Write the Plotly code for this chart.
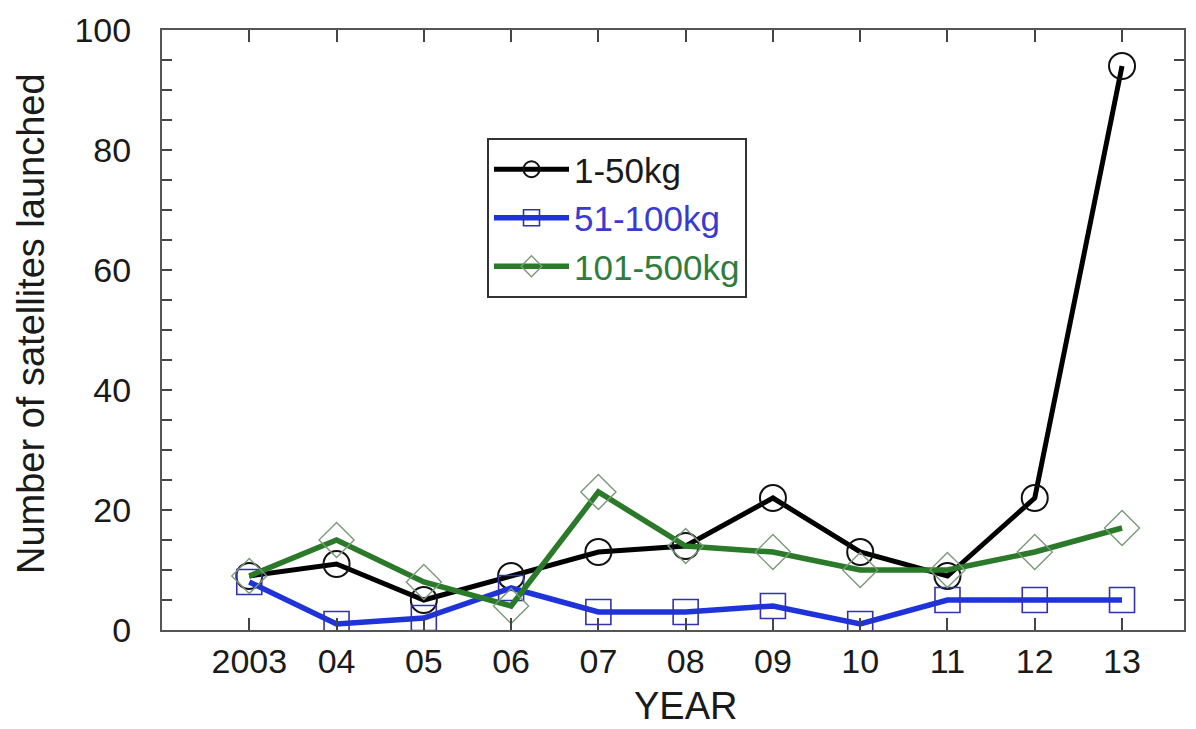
import plotly.graph_objects as go

years = ["2003", "04", "05", "06", "07", "08", "09", "10", "11", "12", "13"]
sat_1_50 = [9, 11, 5, 9, 13, 14, 22, 13, 9, 22, 94]
sat_51_100 = [8, 1, 2, 7, 3, 3, 4, 1, 5, 5, 5]
sat_101_500 = [9, 15, 8, 4, 23, 14, 13, 10, 10, 13, 17]

FONT = "Liberation Sans, Arial, Helvetica, sans-serif"

fig = go.Figure()
fig.add_trace(go.Scatter(
    x=years, y=sat_1_50, mode="lines+markers",
    name="<span style='color:#1a1a1a'>1-50kg</span>",
    line=dict(color="#000000", width=5),
    marker=dict(symbol="circle-open", size=26, color="#111111", line=dict(width=2)),
))
fig.add_trace(go.Scatter(
    x=years, y=sat_51_100, mode="lines+markers",
    name="<span style='color:#3a3ad0'>51-100kg</span>",
    line=dict(color="#1f33da", width=5.5),
    marker=dict(symbol="square-open", size=25, color="#3232b0", line=dict(width=1.6)),
))
fig.add_trace(go.Scatter(
    x=years, y=sat_101_500, mode="lines+markers",
    name="<span style='color:#2f7d3c'>101-500kg</span>",
    line=dict(color="#2a7a2a", width=5.5),
    marker=dict(symbol="diamond-open", size=27, color="#7a9a7a", line=dict(width=1.4)),
))

# the page body adds an 8px offset, so the figure is sized/margined to compensate
fig.update_layout(
    width=1188, height=721,
    margin=dict(l=154, r=12, t=22, b=99),
    paper_bgcolor="white", plot_bgcolor="white",
    font=dict(family=FONT, color="#1a1a1a"),
    showlegend=True,
    hovermode=False,
    legend=dict(
        x=0.318, y=0.82, xanchor="left", yanchor="top",
        bgcolor="white", bordercolor="#333333", borderwidth=2,
        font=dict(size=35, family=FONT),
        itemwidth=75,
        tracegroupgap=0,
    ),
    annotations=[
        dict(text="Number of satellites launched", xref="paper", yref="paper",
             x=0, y=0.5, xanchor="center", yanchor="middle", xshift=-131, yshift=6,
             textangle=-90, showarrow=False,
             font=dict(size=38, family=FONT, color="#1a1a1a")),
        dict(text="YEAR", xref="paper", yref="paper",
             x=0.5, y=0, xanchor="center", yanchor="middle", xshift=12, yshift=-76,
             showarrow=False,
             font=dict(size=38, family=FONT, color="#1a1a1a")),
    ],
)
fig.update_xaxes(
    type="category", range=[-1, 10.71], automargin=False,
    showline=True, linecolor="#555555", linewidth=2, mirror="allticks",
    ticks="inside", ticklen=12, tickwidth=1.5, tickcolor="#444444",
    showgrid=False, zeroline=False,
    tickfont=dict(size=34, family=FONT, color="#1a1a1a"),
    ticklabelstandoff=0,
)
fig.update_yaxes(
    range=[0, 100], tickvals=[0, 20, 40, 60, 80, 100], automargin=False,
    showline=True, linecolor="#555555", linewidth=2, mirror="allticks",
    ticks="inside", ticklen=10, tickwidth=1.5, tickcolor="#444444",
    minor=dict(dtick=5, ticks="inside", ticklen=10, tickwidth=1.5, tickcolor="#444444", showgrid=False),
    showgrid=False, zeroline=False,
    tickfont=dict(size=34, family=FONT, color="#1a1a1a"),
    ticklabelstandoff=22,
)

fig.write_html("out.html")
